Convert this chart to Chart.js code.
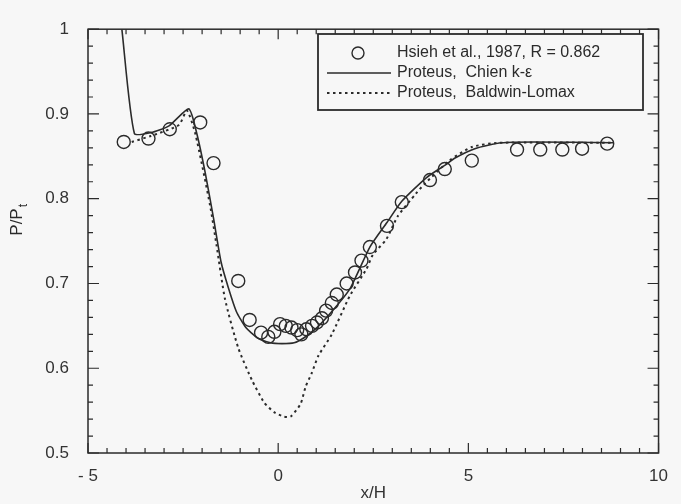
<!DOCTYPE html>
<html>
<head>
<meta charset="utf-8">
<script src="https://cdn.jsdelivr.net/npm/chart.js@4/dist/chart.umd.min.js"></script>
<style>
  body { margin: 0; background: #f7f7f7; }
</style>
</head>
<body>
<canvas id="grafico" width="681" height="504"></canvas>
<script>
// Hsieh et al., 1987 (experimental points)
const expX = [-4.06, -3.41, -2.85, -2.05, -1.70, -1.05, -0.75, -0.45, -0.26, -0.10, 0.05, 0.20, 0.35, 0.50, 0.61, 0.74, 0.89, 1.02, 1.15, 1.26, 1.41, 1.54, 1.80, 2.02, 2.19, 2.41, 2.86, 3.25, 3.99, 4.38, 5.09, 6.28, 6.89, 7.47, 7.99, 8.65];
const expY = [0.867, 0.871, 0.882, 0.890, 0.842, 0.703, 0.657, 0.642, 0.637, 0.643, 0.652, 0.650, 0.648, 0.645, 0.640, 0.646, 0.650, 0.654, 0.659, 0.668, 0.677, 0.687, 0.700, 0.713, 0.727, 0.743, 0.768, 0.796, 0.822, 0.835, 0.845, 0.858, 0.858, 0.858, 0.859, 0.865];

// Proteus, Chien k-e
const chienX = [-4.11, -3.78, -3.35, -2.87, -2.35, -2.14, -1.92, -1.70, -1.50, -1.31, -1.10, -0.85, -0.55, -0.20, 0.10, 0.42, 0.68, 1.02, 1.45, 1.89, 2.41, 2.86, 3.25, 3.90, 4.40, 4.65, 5.17, 5.87, 6.73, 8.81];
const chienY = [1.0, 0.877, 0.878, 0.886, 0.906, 0.877, 0.831, 0.777, 0.725, 0.695, 0.667, 0.648, 0.636, 0.630, 0.629, 0.630, 0.636, 0.648, 0.669, 0.694, 0.743, 0.772, 0.797, 0.825, 0.840, 0.848, 0.859, 0.866, 0.867, 0.866];

// Proteus, Baldwin-Lomax
const blX = [-3.85, -3.35, -2.61, -2.40, -2.18, -1.79, -1.62, -1.40, -1.05, -0.69, -0.36, -0.10, 0.15, 0.33, 0.59, 0.72, 0.88, 1.06, 1.41, 1.89, 2.32, 2.49, 2.84, 3.14, 3.62, 3.84, 4.50, 5.09, 5.80, 8.81];
const blY = [0.867, 0.874, 0.887, 0.904, 0.877, 0.792, 0.745, 0.682, 0.624, 0.586, 0.559, 0.548, 0.543, 0.543, 0.558, 0.578, 0.594, 0.615, 0.640, 0.686, 0.717, 0.734, 0.752, 0.779, 0.806, 0.817, 0.845, 0.861, 0.866, 0.866];

const xTicks = [-5, 0, 5, 10];
const xTickLabels = ['- 5', '0', '5', '10'];
const yTicks = [0.5, 0.6, 0.7, 0.8, 0.9, 1];
const yTickLabels = ['0.5', '0.6', '0.7', '0.8', '0.9', '1'];

const legendLabels = ['Hsieh et al., 1987, R = 0.862', 'Proteus,  Chien k-\u03b5', 'Proteus,  Baldwin-Lomax'];

const pts = (xs, ys) => xs.map((x, i) => ({ x: x, y: ys[i] }));

const ink = '#2b2b2b';
const fonte = '"Liberation Sans", Arial, sans-serif';

// frame, inward ticks, legend box and y title
const moldura = {
  id: 'moldura',
  beforeDraw(chart) {
    const ctx = chart.ctx;
    ctx.save();
    ctx.fillStyle = '#f7f7f7';
    ctx.fillRect(0, 0, chart.width, chart.height);
    ctx.restore();
  },
  afterDraw(chart) {
    const { ctx, chartArea: a, scales: { x, y } } = chart;
    ctx.save();
    ctx.strokeStyle = ink;
    ctx.lineWidth = 1.5;
    ctx.strokeRect(a.left, a.top, a.right - a.left, a.bottom - a.top);

    ctx.lineWidth = 1.2;
    ctx.beginPath();
    for (let i = 0; i <= 30; i++) {
      const px = x.getPixelForValue(-5 + i * 0.5);
      const len = i % 10 === 0 ? 10 : 5;
      ctx.moveTo(px, a.bottom); ctx.lineTo(px, a.bottom - len);
      ctx.moveTo(px, a.top); ctx.lineTo(px, a.top + len);
    }
    for (let i = 0; i <= 25; i++) {
      const py = y.getPixelForValue(0.5 + i * 0.02);
      const len = i % 5 === 0 ? 11 : 5;
      ctx.moveTo(a.left, py); ctx.lineTo(a.left + len, py);
      ctx.moveTo(a.right, py); ctx.lineTo(a.right - len, py);
    }
    ctx.stroke();

    // legend box
    ctx.fillStyle = '#f7f7f7';
    ctx.fillRect(318, 34, 325, 76);
    ctx.lineWidth = 1.8;
    ctx.strokeRect(318, 34, 325, 76);
    ctx.lineWidth = 1.4;
    ctx.beginPath();
    ctx.arc(358, 53, 6, 0, Math.PI * 2);
    ctx.stroke();
    ctx.lineWidth = 1.5;
    ctx.beginPath();
    ctx.moveTo(327, 73); ctx.lineTo(391, 73);
    ctx.stroke();
    ctx.setLineDash([2.5, 3.5]);
    ctx.lineWidth = 2;
    ctx.beginPath();
    ctx.moveTo(327, 93); ctx.lineTo(391, 93);
    ctx.stroke();
    ctx.setLineDash([]);
    ctx.fillStyle = ink;
    ctx.font = '16px ' + fonte;
    ctx.textBaseline = 'middle';
    ctx.textAlign = 'left';
    legendLabels.forEach((t, i) => ctx.fillText(t, 397, 53 + i * 20));

    // y title P/Pt
    ctx.translate(17, 222);
    ctx.rotate(-Math.PI / 2);
    ctx.font = '17px ' + fonte;
    ctx.textBaseline = 'middle';
    ctx.textAlign = 'center';
    ctx.fillText('P/P', 0, 0);
    const w = ctx.measureText('P/P').width;
    ctx.font = '12px ' + fonte;
    ctx.textAlign = 'left';
    ctx.fillText('t', w / 2 + 1, 7);
    ctx.restore();
  }
};

new Chart(document.getElementById('grafico').getContext('2d'), {
  type: 'scatter',
  data: {
    datasets: [{
      label: legendLabels[0],
      data: pts(expX, expY),
      showLine: false,
      pointRadius: 6.5,
      pointBorderWidth: 1.4,
      pointBackgroundColor: 'rgba(0,0,0,0)',
      pointBorderColor: ink
    }, {
      label: legendLabels[1],
      data: pts(chienX, chienY),
      showLine: true,
      pointRadius: 0,
      borderColor: ink,
      borderWidth: 1.6,
      tension: 0.2
    }, {
      label: legendLabels[2],
      data: pts(blX, blY),
      showLine: true,
      pointRadius: 0,
      borderColor: ink,
      borderWidth: 2,
      borderDash: [2.5, 3.5],
      tension: 0.2
    }]
  },
  options: {
    responsive: false,
    animation: false,
    devicePixelRatio: 1,
    layout: { padding: { top: 20, right: 15, left: 0, bottom: 0 } },
    plugins: { legend: { display: false }, tooltip: { enabled: false } },
    scales: {
      x: {
        type: 'linear', min: -5, max: 10,
        grid: { display: false, drawTicks: false },
        border: { display: false },
        afterBuildTicks: s => { s.ticks = xTicks.map(v => ({ value: v })); },
        afterFit: s => { s.height = 51; },
        ticks: {
          padding: 13, color: '#333', maxRotation: 0,
          font: { family: fonte, size: 17 },
          callback: v => xTickLabels[xTicks.indexOf(v)]
        },
        title: { display: true, text: 'x/H', color: '#333', font: { family: fonte, size: 17 }, padding: 0 }
      },
      y: {
        type: 'linear', min: 0.5, max: 1,
        grid: { display: false, drawTicks: false },
        border: { display: false },
        afterBuildTicks: s => { s.ticks = yTicks.map(v => ({ value: v })); },
        afterFit: s => { s.width = 88; },
        ticks: {
          padding: 19, color: '#333',
          font: { family: fonte, size: 17 },
          callback: v => yTickLabels[yTicks.indexOf(v)]
        }
      }
    }
  },
  plugins: [moldura]
});
</script>
</body>
</html>
